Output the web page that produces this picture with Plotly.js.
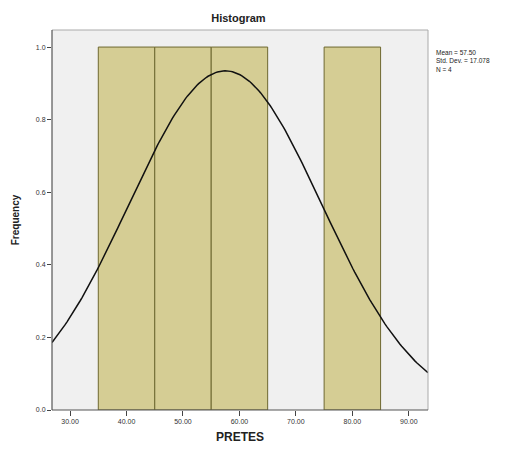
<!DOCTYPE html>
<html>
<head>
<meta charset="utf-8">
<script src="https://cdn.plot.ly/plotly-3.0.1.min.js"></script>
<style>html,body{margin:0;padding:0;background:#fff;}#chart{width:515px;height:450px;}</style>
</head>
<body>
<div id="chart"></div>
<script>
// Data
const binCenters = [40, 50, 60, 80];
const binCounts = [1, 1, 1, 1];
const binWidth = 10;
const statMean = 57.50;
const statSD = 17.078;
const statN = 4;
const xTicks = [30, 40, 50, 60, 70, 80, 90];
const xTickLabels = ["30.00", "40.00", "50.00", "60.00", "70.00", "80.00", "90.00"];
const yTicks = [0, 0.2, 0.4, 0.6, 0.8, 1.0];
const yTickLabels = ["0.0", "0.2", "0.4", "0.6", "0.8", "1.0"];
const xRange = [26.8, 93.4];

// Normal curve overlay from mean / SD / N (as SPSS draws it)
const curveX = [];
const curveY = [];
for (let i = 0; i <= 200; i++) {
  const x = xRange[0] + (xRange[1] - xRange[0]) * i / 200;
  const z = (x - statMean) / statSD;
  curveX.push(x);
  curveY.push(statN * binWidth * Math.exp(-0.5 * z * z) / (statSD * Math.sqrt(2 * Math.PI)));
}

const font = "Liberation Sans, Arial, sans-serif";

const traces = [
  {
    type: "bar",
    x: binCenters,
    y: binCounts,
    width: binCenters.map(() => binWidth),
    marker: { color: "#d5cd94", line: { color: "#6e6830", width: 1 } },
    hoverinfo: "skip"
  },
  {
    type: "scatter",
    mode: "lines",
    x: curveX,
    y: curveY,
    line: { color: "#111", width: 1.5 },
    hoverinfo: "skip"
  }
];

const layout = {
  width: 515,
  height: 450,
  margin: { l: 52, r: 87, t: 30, b: 40 },
  paper_bgcolor: "#ffffff",
  plot_bgcolor: "#f0f0f0",
  showlegend: false,
  bargap: 0,
  title: {
    text: "<b>Histogram</b>",
    font: { family: font, size: 11, color: "#222" },
    x: 0.463, xanchor: "center", y: 0.96, yanchor: "middle"
  },
  xaxis: {
    range: xRange,
    tickvals: xTicks,
    ticktext: xTickLabels,
    ticks: "outside",
    ticklen: 5,
    tickcolor: "#444",
    tickfont: { family: font, size: 7, color: "#333" },
    showgrid: false,
    zeroline: false,
    showline: false,
    title: { text: "<b>PRETES</b>", font: { family: font, size: 12, color: "#222" }, standoff: 8 }
  },
  yaxis: {
    range: [0, 1.047],
    tickvals: yTicks,
    ticktext: yTickLabels,
    ticks: "outside",
    ticklen: 4,
    tickcolor: "#444",
    tickfont: { family: font, size: 7, color: "#333" },
    showgrid: false,
    zeroline: false,
    showline: false,
    title: { text: "<b>Frequency</b>", font: { family: font, size: 10, color: "#222" }, standoff: 14 }
  },
  shapes: [
    { type: "line", xref: "paper", yref: "paper", x0: 0, x1: 1, y0: 1, y1: 1, line: { color: "#aaaaaa", width: 1 } },
    { type: "line", xref: "paper", yref: "paper", x0: 1, x1: 1, y0: 0, y1: 1, line: { color: "#aaaaaa", width: 1 } },
    { type: "line", xref: "paper", yref: "paper", x0: 0, x1: 0, y0: 0, y1: 1, line: { color: "#555555", width: 1.2 } },
    { type: "line", xref: "paper", yref: "paper", x0: 0, x1: 1, y0: 0, y1: 0, line: { color: "#555555", width: 1.2 } }
  ],
  annotations: [
    { xref: "paper", yref: "paper", x: 1.015, y: 0.955, xanchor: "left", yanchor: "top", align: "left", showarrow: false,
      text: "Mean = " + statMean.toFixed(2) + "<br>Std. Dev. = " + statSD.toFixed(3) + "<br>N = " + statN,
      font: { family: font, size: 6.5, color: "#222" } }
  ]
};

Plotly.newPlot("chart", traces, layout, { displayModeBar: false, staticPlot: true });
</script>
</body>
</html>
